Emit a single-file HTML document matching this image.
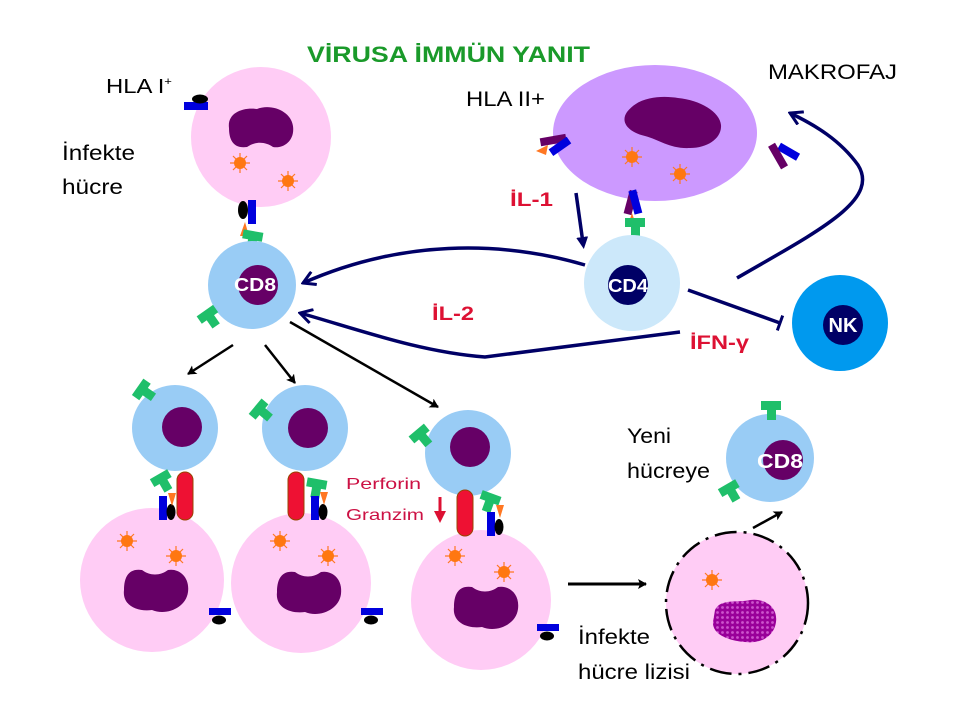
<!DOCTYPE html>
<html><head><meta charset="utf-8"><style>
html,body{margin:0;padding:0;background:#fff;}
svg{display:block;font-family:"Liberation Sans",sans-serif;}
</style></head><body>
<svg width="960" height="720" viewBox="0 0 960 720" xmlns="http://www.w3.org/2000/svg">
<defs>
<g id="sun"><g stroke="#ff7722" stroke-width="1.2"><line x1="0" y1="-10" x2="0" y2="10"/><line x1="-10" y1="0" x2="10" y2="0"/><line x1="-7" y1="-7" x2="7" y2="7"/><line x1="-7" y1="7" x2="7" y2="-7"/></g><circle r="6" fill="#ff7711"/></g>
<g id="rec"><rect x="-10" y="-9" width="20" height="9" fill="#1fbf6a"/><rect x="-4" y="-1" width="9" height="11" fill="#1fbf6a"/></g>
<path id="nuc" d="M-32,0 C-34,-16 -18,-22 -4,-20 C10,-26 30,-18 32,-2 C34,14 22,22 12,20 C4,14 -6,14 -14,20 C-28,22 -32,12 -32,0Z"/>
<g id="mhc"><rect x="-11" y="-3" width="22" height="7" fill="#0000dd"/><ellipse cx="-1" cy="9" rx="7" ry="4.5" fill="#000"/></g>
<pattern id="hatch" width="5" height="5" patternUnits="userSpaceOnUse"><rect width="5" height="5" fill="#990099"/><circle cx="2.5" cy="2.5" r="1.4" fill="#cc55cc"/></pattern>
<marker id="ah" markerWidth="10" markerHeight="10" refX="8" refY="5" orient="auto" markerUnits="userSpaceOnUse"><path d="M0,0 L9,5 L0,10 L2,5Z" fill="#000"/></marker>
<marker id="nv" markerWidth="16" markerHeight="16" refX="14" refY="8" orient="auto" markerUnits="userSpaceOnUse"><path d="M2,1 L14,8 L2,15" fill="none" stroke="#000066" stroke-width="3"/></marker>
<marker id="nvT" markerWidth="16" markerHeight="16" refX="10" refY="8" orient="auto" markerUnits="userSpaceOnUse"><path d="M10,0 L10,16" fill="none" stroke="#000066" stroke-width="3"/></marker>
<marker id="nvF" markerWidth="12" markerHeight="12" refX="6" refY="6" orient="auto" markerUnits="userSpaceOnUse"><path d="M0,0 L12,6 L0,12Z" fill="#000066"/></marker>
</defs>
<g lengthAdjust="spacingAndGlyphs">
<text x="307" y="62" font-size="22" font-weight="bold" fill="#1a9a2a" textLength="283" lengthAdjust="spacingAndGlyphs">VİRUSA İMMÜN YANIT</text>
<text x="106" y="93" font-size="20" textLength="66" lengthAdjust="spacingAndGlyphs">HLA I<tspan font-size="11" dy="-8">+</tspan></text>
<text x="62" y="160" font-size="21" textLength="73" lengthAdjust="spacingAndGlyphs">İnfekte</text>
<text x="62" y="194" font-size="21" textLength="61" lengthAdjust="spacingAndGlyphs">hücre</text>
<text x="466" y="106" font-size="21" textLength="79" lengthAdjust="spacingAndGlyphs">HLA II+</text>
<text x="768" y="79" font-size="21" textLength="129" lengthAdjust="spacingAndGlyphs">MAKROFAJ</text>
</g>

<circle cx="261" cy="137" r="70" fill="#ffccf5"/>
<use href="#nuc" transform="translate(261,128) scale(1,0.95)" fill="#660066"/>
<use href="#sun" x="240" y="163"/><use href="#sun" x="288" y="181"/>
<rect x="184" y="102" width="24" height="8" fill="#0000dd"/><ellipse cx="200" cy="99" rx="8" ry="4.5" fill="#000"/>
<ellipse cx="243" cy="210" rx="5" ry="9" fill="#000"/><rect x="248" y="200" width="8" height="24" fill="#0000dd"/>
<path d="M240,236 L245,222 L249,236Z" fill="#ff7722"/>
<use href="#rec" transform="translate(252,240) rotate(10)"/>

<circle cx="252" cy="285" r="44" fill="#99ccf5"/>
<circle cx="258" cy="285" r="20" fill="#660066"/>
<text x="234" y="291" font-size="18" font-weight="bold" fill="#fff" textLength="42" lengthAdjust="spacingAndGlyphs">CD8</text>
<use href="#rec" transform="translate(210,318) rotate(-35)"/>

<ellipse cx="655" cy="133" rx="102" ry="68" fill="#cc99ff"/>
<path d="M627,112 C640,95 665,96 678,98 C700,100 720,112 721,125 C722,138 708,148 690,148 C670,149 660,140 645,136 C628,132 620,122 627,112Z" fill="#660066"/>
<use href="#sun" x="632" y="157"/><use href="#sun" x="680" y="174"/>
<g transform="translate(548,145)"><rect x="-7" y="-8" width="26" height="8" fill="#660066" transform="rotate(-10)"/><rect x="-2" y="4" width="22" height="8" fill="#0000dd" transform="rotate(-35)"/><path d="M-12,6 L0,0 L-2,10Z" fill="#ff7722"/></g>
<g transform="translate(778,148)"><rect x="0" y="-6" width="22" height="8" fill="#0000dd" transform="rotate(30)"/><rect x="-6" y="0" width="26" height="8" fill="#660066" transform="rotate(60)"/></g>
<g transform="translate(632,205)"><rect x="-6" y="-14" width="8" height="24" fill="#660066" transform="rotate(15)"/><rect x="0" y="-14" width="8" height="24" fill="#0000dd" transform="rotate(-15)"/><path d="M-4,20 L0,8 L4,20Z" fill="#ff7722"/></g>
<use href="#rec" transform="translate(635,227)"/>

<circle cx="632" cy="283" r="48" fill="#cce8fa"/>
<circle cx="628" cy="285" r="20" fill="#000066"/>
<text x="608" y="292" font-size="18" font-weight="bold" fill="#fff" textLength="40" lengthAdjust="spacingAndGlyphs">CD4</text>

<circle cx="840" cy="323" r="48" fill="#0099ee"/>
<circle cx="843" cy="325" r="20" fill="#000066"/>
<text x="843" y="332" text-anchor="middle" font-size="20" font-weight="bold" fill="#fff">NK</text>

<g stroke="#000066" stroke-width="3.5" fill="none">
<path d="M576,193 L583,243" marker-end="url(#nvF)"/>
<path d="M585,265 C500,240 400,240 303,283" marker-end="url(#nv)"/>
<path d="M680,332 L485,357 C420,352 360,330 300,313" marker-end="url(#nv)"/>
<path d="M688,290 L780,323" marker-end="url(#nvT)"/>
<path d="M737,278 C820,230 880,200 858,165 C840,140 815,125 790,113" marker-end="url(#nv)"/>
</g>
<text x="510" y="206" font-size="19" font-weight="bold" fill="#dd1133" textLength="43" lengthAdjust="spacingAndGlyphs">İL-1</text>
<text x="432" y="320" font-size="19" font-weight="bold" fill="#dd1133" textLength="42" lengthAdjust="spacingAndGlyphs">İL-2</text>
<text x="690" y="349" font-size="19" font-weight="bold" fill="#dd1133" textLength="59" lengthAdjust="spacingAndGlyphs">İFN-γ</text>

<g stroke="#000" stroke-width="2.5" fill="none">
<line x1="233" y1="345" x2="188" y2="374" marker-end="url(#ah)"/>
<line x1="265" y1="345" x2="295" y2="383" marker-end="url(#ah)"/>
<line x1="290" y1="322" x2="438" y2="407" marker-end="url(#ah)"/>
<line x1="568" y1="584" x2="646" y2="584" stroke-width="3" marker-end="url(#ah)"/>
<line x1="753" y1="528" x2="782" y2="512" marker-end="url(#ah)"/>
</g>

<circle cx="152" cy="580" r="72" fill="#ffccf5"/>
<circle cx="301" cy="583" r="70" fill="#ffccf5"/>
<circle cx="481" cy="600" r="70" fill="#ffccf5"/>
<use href="#nuc" transform="translate(156,590) scale(1,-1)" fill="#660066"/>
<use href="#nuc" transform="translate(309,592) scale(1,-1)" fill="#660066"/>
<use href="#nuc" transform="translate(486,607) scale(1,-1)" fill="#660066"/>
<use href="#sun" x="127" y="541"/><use href="#sun" x="176" y="556"/>
<use href="#sun" x="280" y="541"/><use href="#sun" x="328" y="556"/>
<use href="#sun" x="455" y="556"/><use href="#sun" x="504" y="572"/>
<use href="#mhc" x="220" y="611"/><use href="#mhc" x="372" y="611"/><use href="#mhc" x="548" y="627"/>

<circle cx="175" cy="428" r="43" fill="#99ccf5"/><circle cx="182" cy="427" r="20" fill="#660066"/>
<circle cx="305" cy="428" r="43" fill="#99ccf5"/><circle cx="308" cy="428" r="20" fill="#660066"/>
<circle cx="468" cy="453" r="43" fill="#99ccf5"/><circle cx="470" cy="447" r="20" fill="#660066"/>
<use href="#rec" transform="translate(145,392) rotate(-55)"/>
<use href="#rec" transform="translate(262,412) rotate(-50)"/>
<use href="#rec" transform="translate(422,437) rotate(-40)"/>
<use href="#rec" transform="translate(163,482) rotate(-30)"/>
<use href="#rec" transform="translate(316,488) rotate(10)"/>
<use href="#rec" transform="translate(489,502) rotate(20)"/>
<rect x="159" y="496" width="8" height="24" fill="#0000dd"/><ellipse cx="171" cy="512" rx="4.5" ry="8" fill="#000"/><path d="M168,493 L176,493 L172,506Z" fill="#ff7722"/>
<rect x="311" y="496" width="8" height="24" fill="#0000dd"/><ellipse cx="323" cy="512" rx="4.5" ry="8" fill="#000"/><path d="M320,492 L328,492 L324,505Z" fill="#ff7722"/>
<rect x="487" y="512" width="8" height="24" fill="#0000dd"/><ellipse cx="499" cy="527" rx="4.5" ry="8" fill="#000"/><path d="M496,505 L504,505 L500,518Z" fill="#ff7722"/>
<g fill="#ee1133" stroke="#994400" stroke-width="1">
<rect x="177" y="472" width="16" height="48" rx="8"/>
<rect x="288" y="472" width="16" height="48" rx="8"/>
<rect x="457" y="490" width="16" height="46" rx="8"/>
</g>
<text x="346" y="489" font-size="16" fill="#cc1144" textLength="75" lengthAdjust="spacingAndGlyphs">Perforin</text>
<text x="346" y="520" font-size="16" fill="#cc1144" textLength="78" lengthAdjust="spacingAndGlyphs">Granzim</text>
<path d="M440,497 L440,512" stroke="#dd1133" stroke-width="3"/><path d="M434,511 L446,511 L440,523Z" fill="#dd1133"/>

<circle cx="737" cy="603" r="71" fill="#ffccf5" stroke="#000" stroke-width="2.5" stroke-dasharray="22,7,3,7"/>
<use href="#sun" x="712" y="580"/>
<path d="M715,610 C720,598 740,603 750,600 C765,598 778,607 776,622 C774,637 760,644 745,642 C730,641 712,635 713,622Z" fill="url(#hatch)"/>

<circle cx="770" cy="458" r="44" fill="#99ccf5"/><circle cx="783" cy="460" r="20" fill="#660066"/>
<text x="757" y="468" font-size="20" font-weight="bold" fill="#fff" textLength="46" lengthAdjust="spacingAndGlyphs">CD8</text>
<use href="#rec" transform="translate(771,410)"/>
<use href="#rec" transform="translate(731,492) rotate(-30)"/>

<text x="627" y="443" font-size="21" textLength="44" lengthAdjust="spacingAndGlyphs">Yeni</text>
<text x="627" y="478" font-size="21" textLength="83" lengthAdjust="spacingAndGlyphs">hücreye</text>
<text x="578" y="644" font-size="21" textLength="72" lengthAdjust="spacingAndGlyphs">İnfekte</text>
<text x="578" y="679" font-size="21" textLength="112" lengthAdjust="spacingAndGlyphs">hücre lizisi</text>
</svg>
</body></html>
